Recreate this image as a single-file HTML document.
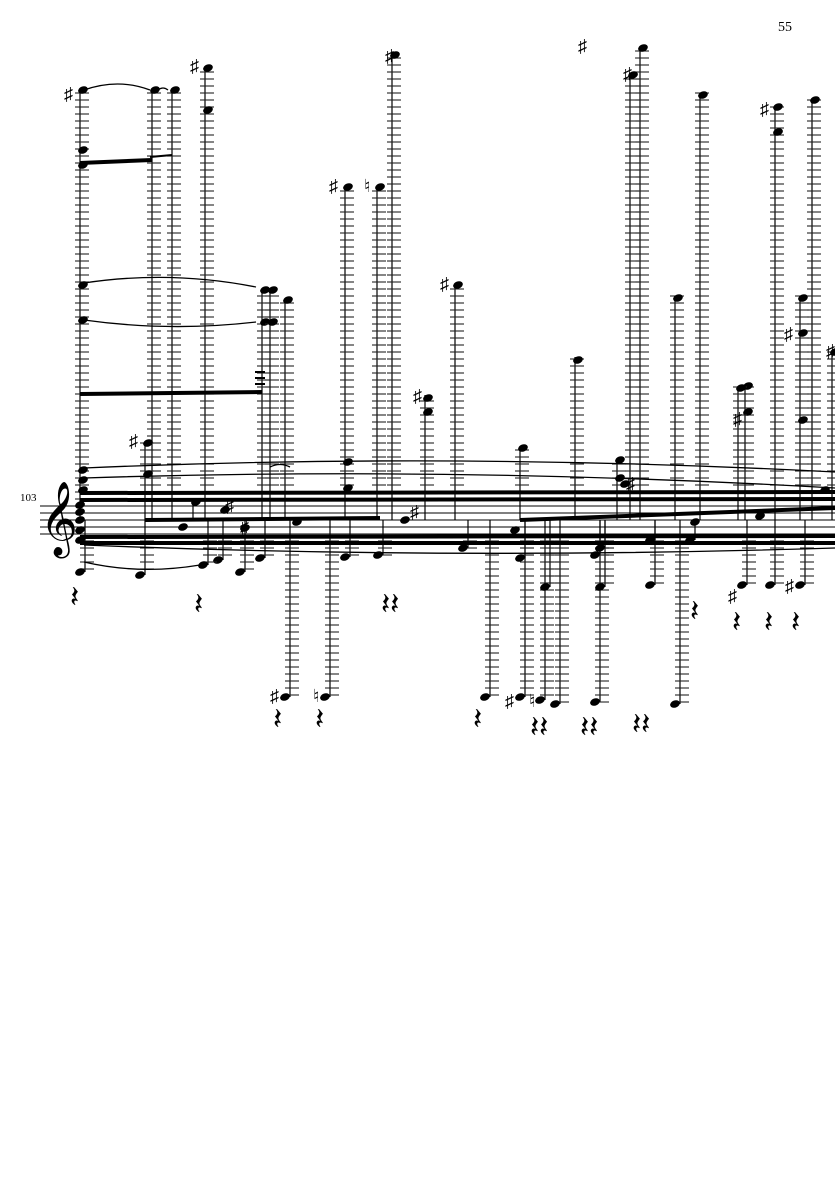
<!DOCTYPE html>
<html><head><meta charset="utf-8"><style>
html,body{margin:0;padding:0;background:#fff;width:835px;height:1181px;overflow:hidden}
svg{display:block}
text{font-family:"Liberation Serif",serif;fill:#000}
</style></head><body>
<svg id="s" width="835" height="1181" xmlns="http://www.w3.org/2000/svg">
<text x="778" y="31" font-size="14">55</text>
<text x="20" y="501" font-size="11">103</text>
<g id="staff" stroke="#000" stroke-width="1">
<line x1="40" y1="506" x2="835" y2="506"/><line x1="40" y1="513" x2="835" y2="513"/>
<line x1="40" y1="520" x2="835" y2="520"/><line x1="40" y1="527" x2="835" y2="527"/>
<line x1="40" y1="534" x2="835" y2="534"/>
</g>
<text x="40" y="540" font-size="64" font-family="DejaVu Sans">𝄞</text>
<g id="g"></g>
<g fill="none" stroke="#000" stroke-width="1.3">
<path d="M84 90 Q118 78 150 90"/><path d="M158 90 Q163 86 168 90"/>
<path d="M84 283 Q170 270 256 287"/><path d="M84 320 Q170 332 256 322"/>
<path d="M84 468 Q450 452 835 472"/><path d="M84 478 Q450 466 835 488"/>
<path d="M84 562 Q140 575 200 565"/><path d="M84 545 Q450 560 835 548"/>
<path d="M270 467 Q280 462 290 467"/>
</g>
<g stroke="#000" stroke-width="4">
<line x1="80" y1="163" x2="152" y2="160"/><line x1="80" y1="394" x2="262" y2="392"/>
<line x1="80" y1="493" x2="835" y2="492"/><line x1="80" y1="500" x2="835" y2="499"/>
<line x1="80" y1="537" x2="835" y2="536"/><line x1="80" y1="543" x2="835" y2="543"/>
<line x1="145" y1="520" x2="380" y2="518"/><line x1="520" y1="520" x2="835" y2="508"/>
<line x1="150" y1="157" x2="172" y2="155" stroke-width="2"/>
<line x1="255" y1="372" x2="265" y2="372" stroke-width="2"/><line x1="255" y1="378" x2="265" y2="378" stroke-width="2"/><line x1="255" y1="384" x2="265" y2="384" stroke-width="2"/>
</g>
<g font-size="18" font-family="DejaVu Sans">
<text x="64" y="100">♯</text><text x="190" y="72">♯</text><text x="385" y="62">♯</text>
<text x="329" y="192">♯</text><text x="364" y="192">♮</text><text x="440" y="290">♯</text>
<text x="413" y="402">♯</text><text x="129" y="447">♯</text><text x="578" y="52">♯</text>
<text x="623" y="80">♯</text><text x="760" y="115">♯</text><text x="784" y="340">♯</text>
<text x="826" y="357">♯</text><text x="733" y="425">♯</text><text x="225" y="512">♯</text>
<text x="270" y="702">♯</text><text x="313" y="702">♮</text><text x="505" y="707">♯</text>
<text x="529" y="707">♮</text><text x="728" y="602">♯</text><text x="785" y="592">♯</text>
<text x="626" y="490">♯</text><text x="240" y="533">♯</text><text x="410" y="518">♯</text>
</g>
<g font-size="30" font-family="DejaVu Sans">
<text x="194" y="614">𝄽</text><text x="381" y="614">𝄽𝄽</text><text x="690" y="621">𝄽</text>
<text x="732" y="632">𝄽</text><text x="764" y="632">𝄽</text><text x="791" y="632">𝄽</text>
<text x="273" y="729">𝄽</text><text x="315" y="729">𝄽</text><text x="473" y="729">𝄽</text>
<text x="530" y="737">𝄽𝄽</text><text x="580" y="737">𝄽𝄽</text><text x="632" y="734">𝄽𝄽</text>
<text x="70" y="607">𝄽</text>
</g>
</svg>
<script>
var g=document.getElementById('g'),h='';
function stem(x,y1,y2){
 h+='<line x1="'+x+'" y1="'+y1+'" x2="'+x+'" y2="'+y2+'" stroke="#000" stroke-width="1.2"/>';
 var a=Math.min(y1,y2),b=Math.max(y1,y2);
 for(var y=499;y>=a;y-=7)h+='<line x1="'+(x-5)+'" y1="'+y+'" x2="'+(x+9)+'" y2="'+y+'" stroke="#222" stroke-width="1.1"/>';
 for(var y=541;y<=b;y+=7)h+='<line x1="'+(x-5)+'" y1="'+y+'" x2="'+(x+9)+'" y2="'+y+'" stroke="#222" stroke-width="1.1"/>';
}
function nh(x,y){h+='<ellipse cx="'+x+'" cy="'+y+'" rx="5" ry="3.6" transform="rotate(-20 '+x+' '+y+')" fill="#000"/>';}
var ups=[[80,88,[90,150,165,285,320,470,480,490]],[152,88,[90]],[172,88,[90]],[205,66,[68,110]],[145,441,[443,474]],
[262,290,[290,322]],[270,290,[290,322]],[285,298,[300]],[345,186,[187,462,488]],[377,186,[187]],[392,52,[55]],
[425,395,[398,412]],[455,283,[285]],[520,446,[448]],[575,357,[360]],[617,458,[460,478]],[640,46,[48]],
[630,74,[75]],[700,93,[95]],[675,296,[298]],[745,384,[386,412]],[738,386,[388]],[775,105,[107,132]],
[800,296,[298,333,420]],[812,98,[100]],[832,350,[352]],[193,502,[502]],[180,519,[527]]];
ups.forEach(function(u){stem(u[0],u[1],520);u[2].forEach(function(y){nh(u[0]+3,y)})});
var dn=[[285,697],[325,697],[485,697],[520,697],[540,700],[555,704],[595,702],[675,704],[545,587],[600,587],
[650,585],[742,585],[800,585],[770,585],[140,575],[345,557],[378,555],[463,548],[595,555],[218,560],[240,572],
[203,565],[260,558],[80,572],[520,558],[600,548],[650,540],[690,540]];
dn.forEach(function(d){stem(d[0]+5,520,d[1]);nh(d[0],d[1])});
[[80,505],[80,512],[80,520],[80,530],[80,540],[225,510],[245,528],[297,522],[405,520],[625,484],[760,516],[825,490],[695,522],[515,530]].forEach(function(p){nh(p[0],p[1])});
g.innerHTML=h;
</script>
</body></html>
